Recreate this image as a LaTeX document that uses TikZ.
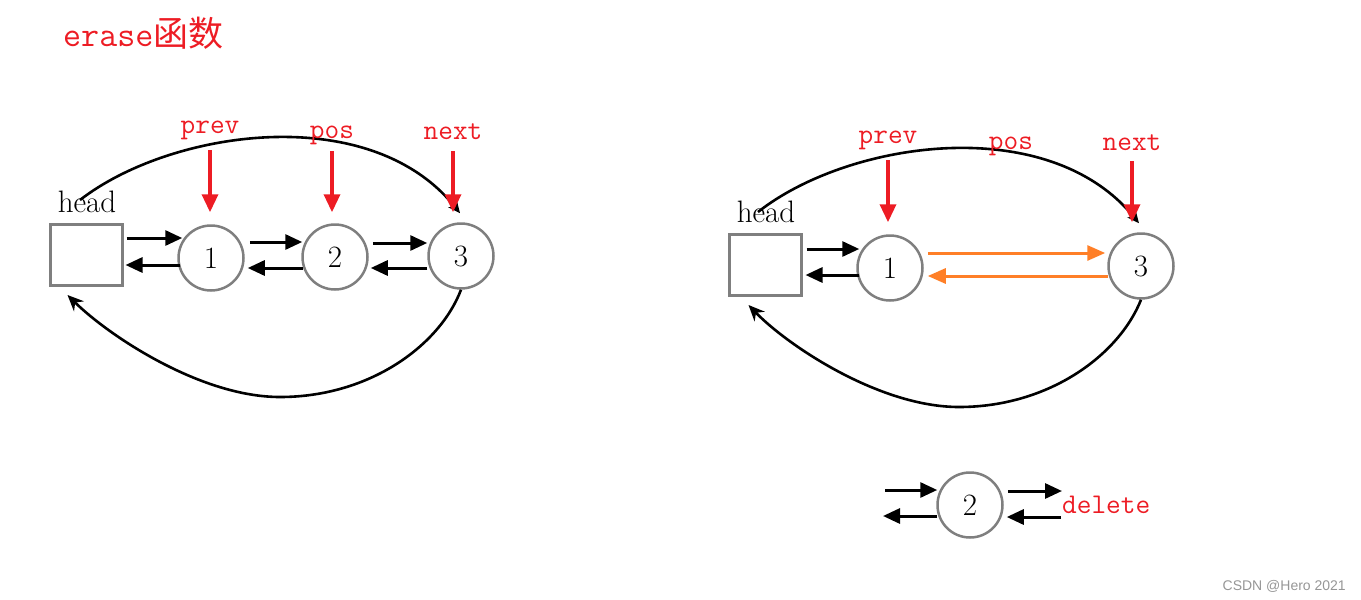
\documentclass[tikz,border=0pt]{standalone}
\usepackage{fontspec}
\newfontfamily\cjkfont{Noto Sans CJK SC}
\newfontfamily\markfont{Liberation Sans}
\usetikzlibrary{arrows.meta}
\usetikzlibrary{calc, positioning}

\definecolor{ptrred}{RGB}{237,28,36}
\definecolor{linkorange}{RGB}{255,127,39}
\definecolor{nodegray}{RGB}{127,127,127}
\definecolor{markgray}{RGB}{150,150,150}

\tikzset{
  listnode/.style={circle, draw=nodegray, line width=2.5pt, minimum size=65pt, inner sep=0pt, font=\fontsize{31}{33}\selectfont},
  headbox/.style={rectangle, draw=nodegray, line width=3pt, minimum width=72pt, minimum height=61pt, inner sep=0pt},
  headlabel/.style={anchor=base, inner sep=0pt, font=\fontsize{31}{33}\selectfont},
  ptrlabel/.style={anchor=base, inner sep=0pt, text=ptrred, font=\ttfamily\fontsize{28.5}{30}\selectfont},
  link/.style={line width=3pt, -{Triangle[length=17pt,width=15pt]}},
  ptr/.style={ptrred, line width=3.5pt, -{Triangle[length=18pt,width=16pt]}},
  newlink/.style={linkorange, line width=3pt, -{Triangle[length=18pt,width=15pt]}},
  curve/.style={line width=2.6pt}
}

\begin{document}
\begin{tikzpicture}[x=1pt,y=-1pt]
          \useasboundingbox (0,0) rectangle (1361,600);

          \node[anchor=base west, inner sep=0pt, text=ptrred] (title) at (63,46) {\ttfamily\fontsize{35}{36}\selectfont erase{\cjkfont\fontsize{35}{36}\selectfont 函数}}; % title

          % list before erase
          \node[headbox] (head) at (86,255) {};
          \node[headlabel] (hl) at ($(head.north)+(1,-11)$) {head};
          \node[listnode] (n1) at (211,258) {1};
          \node[listnode] (n2) at (335,257) {2};
          \node[listnode] (n3) at (461,256) {3};

          \draw [link] ($(head.east)+(3,-17)$) -- ($(n1.west)+(5,-20)$);
          \draw [link] ($(n1.west)+(3,7)$) -- ($(head.east)+(2,10)$);

          \draw [link] ($(n1.east)+(5,-16)$) -- ($(n2.west)+(1,-15)$);
          \draw [link] ($(n2.west)+(2,11)$) -- ($(n1.east)+(3,10)$);

          \draw [link] ($(n2.east)+(4,-14)$) -- ($(n3.west)+(0,-13)$);
          \draw [link] ($(n3.west)+(0,12)$) -- ($(n2.east)+(2,11)$);

          \draw [curve, -{Stealth[length=12pt,width=11pt]}] ($(head.north)+(-6,-23)$) .. controls (170,130) and (370,100) .. ($(n3.north)+(-1,-9)$);
          \draw [curve, -{Stealth[length=16pt,width=14pt]}] (n3.south) .. controls (440,345) and (370,397) .. (280,397) .. controls (200,397) and (108,335) .. ($(head.south west)+(19,8)$);

          \node[ptrlabel] (prevA) at (210,133) {prev};
          \node[ptrlabel] (posA) at (332,138) {pos};
          \node[ptrlabel] (nextA) at (453,139) {next};

          \draw [ptr] ($(prevA.base)+(0,17)$) -- ($(prevA.base |- n1.north)+(0,-12)$);
          \draw [ptr] ($(posA.base)+(0,13)$) -- ($(posA.base |- n2.north)+(0,-11)$);
          \draw [ptr] ($(nextA.base)+(0,12)$) -- ($(nextA.base |- n3.north)+(0,-10)$);

          % list after erase
          \node[headbox] (rhead) at (765,265) {};
          \node[headlabel] (rhl) at ($(rhead.north)+(1,-11)$) {head};
          \node[listnode] (r1) at (890,268) {1};
          \node[listnode] (r3) at (1141,266) {3};

          \draw [link] ($(rhead.east)+(4,-16)$) -- ($(r1.west)+(3,-19)$);
          \draw [link] ($(r1.west)+(3,7)$) -- ($(rhead.east)+(3,10)$);

          \draw [newlink] ($(r1.east)+(4,-15)$) -- ($(r3.west)+(-2,-13)$);
          \draw [newlink] ($(r3.west)+(1,10)$) -- ($(r1.east)+(4,8)$);

          \draw [curve, -{Stealth[length=12pt,width=11pt]}] ($(rhead.north)+(-7,-21)$) .. controls (848,141) and (1048,111) .. ($(r3.north)+(-2,-9)$);
          \draw [curve, -{Stealth[length=16pt,width=14pt]}] (r3.south) .. controls (1119,355) and (1049,407) .. (959,407) .. controls (879,407) and (787,345) .. ($(rhead.south west)+(21,8)$);

          \node[ptrlabel] (rprevA) at (888,143) {prev};
          \node[ptrlabel] (rposA) at (1011,149) {pos};
          \node[ptrlabel] (rnextA) at (1132,150) {next};

          \draw [ptr] ($(rprevA.base)+(0,17)$) -- ($(rprevA.base |- r1.north)+(0,-12)$);
          \draw [ptr] ($(rnextA.base)+(0,11)$) -- ($(rnextA.base |- r3.north)+(0,-10)$);

          % erased node
          \node[listnode] (d2) at (970,505) {2};
          \coordinate (dleft) at (884,503);
          \coordinate (dright) at (1062,504);

          \draw [link] ($(dleft)+(1,-13)$) -- ($(d2.west)+(1,-15)$);
          \draw [link] ($(d2.west)+(1,11)$) -- ($(dleft)+(-1,13)$);
          \draw [link] ($(d2.east)+(4,-14)$) -- ($(dright)+(0,-13)$);
          \draw [link] ($(dright)+(-1,13)$) -- ($(d2.east)+(3,12)$);

          \node[ptrlabel, anchor=base west] (del) at (1062,513) {delete};

          \node[anchor=base east, inner sep=0pt, text=markgray, font=\markfont\fontsize{14}{16}\selectfont] (mark) at (1346,590) {CSDN @Hero 2021};
        \end{tikzpicture}
\end{document}
